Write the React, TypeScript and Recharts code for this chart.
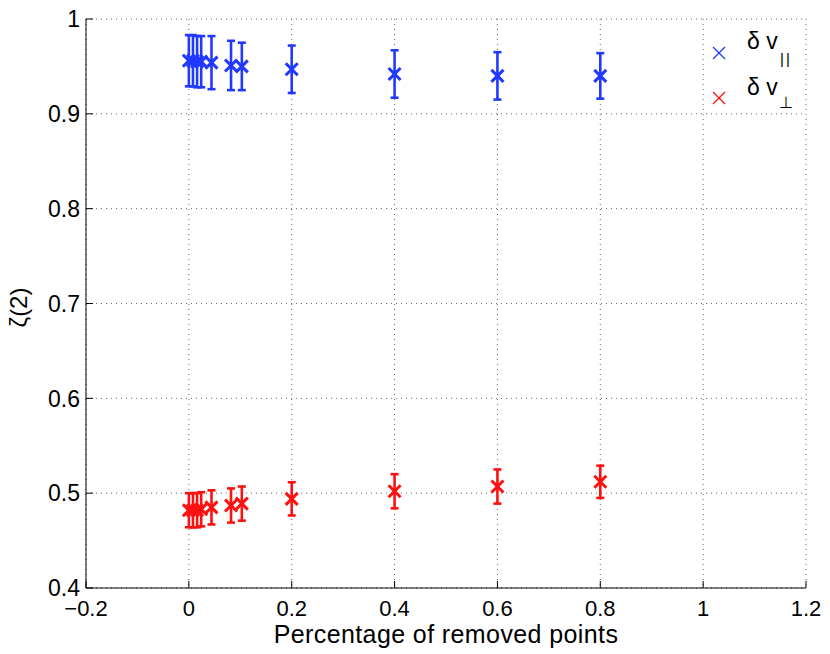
import {
  CartesianGrid,
  ErrorBar,
  Legend,
  Scatter,
  ScatterChart,
  XAxis,
  YAxis,
} from "recharts";

// fraction of removed points (x) and the fitted exponents with their error bars
const removed = [0, 0.008, 0.016, 0.024, 0.044, 0.082, 0.103, 0.2, 0.4, 0.6, 0.8];
const zetaPar = [0.956, 0.956, 0.955, 0.955, 0.954, 0.951, 0.95, 0.947, 0.942, 0.94, 0.94];
const zetaParErr = [0.027, 0.027, 0.027, 0.027, 0.028, 0.026, 0.025, 0.025, 0.025, 0.025, 0.024];
const zetaPerp = [0.482, 0.482, 0.482, 0.483, 0.485, 0.487, 0.489, 0.494, 0.502, 0.507, 0.512];
const zetaPerpErr = [0.018, 0.018, 0.018, 0.018, 0.018, 0.018, 0.018, 0.0175, 0.018, 0.018, 0.017];

const xTicks = [-0.2, 0, 0.2, 0.4, 0.6, 0.8, 1, 1.2];
const yTicks = [0.4, 0.5, 0.6, 0.7, 0.8, 0.9, 1];

const BLUE = "#2038ff";
const RED = "#ff1010";
const FONT = '"Liberation Sans", Arial, Helvetica, sans-serif';

const parData = removed.map((x, i) => ({ x, y: zetaPar[i], err: zetaParErr[i] }));
const perpData = removed.map((x, i) => ({ x, y: zetaPerp[i], err: zetaPerpErr[i] }));

const fmt = (v: number) => (v < 0 ? `\u2212${Math.abs(v)}` : `${v}`);

function Cross(props: any) {
  const { cx, cy, color } = props;
  if (cx == null || cy == null) return null;
  const s = 6;
  return (
    <g stroke={color} strokeWidth={3}>
      <line x1={cx - s} y1={cy - s} x2={cx + s} y2={cy + s} />
      <line x1={cx - s} y1={cy + s} x2={cx + s} y2={cy - s} />
    </g>
  );
}

function BottomTick({ x, y, payload }: any) {
  return (
    <g>
      <line x1={x} y1={y} x2={x} y2={y - 7} stroke="#000" />
      <text
        x={x}
        y={y + 12}
        dy="0.71em"
        textAnchor="middle"
        fontSize={22}
        fontFamily={FONT}
        fill="#000"
      >
        {fmt(payload.value)}
      </text>
    </g>
  );
}

function TopTick({ x, y }: any) {
  return <line x1={x} y1={y} x2={x} y2={y + 7} stroke="#000" />;
}

function LeftTick({ x, y, payload }: any) {
  return (
    <g>
      <line x1={x} y1={y} x2={x + 7} y2={y} stroke="#000" />
      <text
        x={x - 6}
        y={y}
        dy="0.36em"
        textAnchor="end"
        fontSize={23}
        fontFamily={FONT}
        fill="#000"
      >
        {fmt(payload.value)}
      </text>
    </g>
  );
}

function RightTick({ x, y }: any) {
  return <line x1={x} y1={y} x2={x - 7} y2={y} stroke="#000" />;
}

function YTitle({ viewBox }: any) {
  const cy = viewBox ? viewBox.y + viewBox.height / 2 : 304;
  return (
    <text
      x={19}
      y={cy + 4}
      dy="0.35em"
      transform={`rotate(-90 19 ${cy + 4})`}
      textAnchor="middle"
      fontSize={24}
      fontFamily={FONT}
      fill="#000"
    >
      ζ(2)
    </text>
  );
}

function LegendBox() {
  const mark = (cx: number, cy: number, color: string) => (
    <g stroke={color} strokeWidth={1.2}>
      <line x1={cx - 6} y1={cy - 6} x2={cx + 6} y2={cy + 6} />
      <line x1={cx - 6} y1={cy + 6} x2={cx + 6} y2={cy - 6} />
    </g>
  );
  return (
    <svg width={110} height={90} style={{ display: "block" }}>
      {mark(19, 25, BLUE)}
      {mark(19, 70, RED)}
      <text x={47} y={21} fontSize={23} fontFamily={FONT} fill="#000">
        δ v
        <tspan x={80} y={36} fontSize={15} letterSpacing={2}>||</tspan>
      </text>
      <text x={47} y={67} fontSize={23} fontFamily={FONT} fill="#000">
        δ v
        <tspan x={79} y={80} fontSize={16}>⊥</tspan>
      </text>
    </svg>
  );
}

export default function App() {
  return (
    <div style={{ position: "absolute", left: 0, top: 0, background: "#fff" }}>
      <ScatterChart
        width={830}
        height={654}
        margin={{ top: 19, right: 24, bottom: 0, left: 0 }}
      >
        <CartesianGrid stroke="#666" strokeDasharray="1 4" />
        <XAxis
          type="number"
          dataKey="x"
          domain={[-0.2, 1.2]}
          ticks={xTicks}
          interval={0}
          allowDataOverflow
          height={66}
          tickSize={0}
          tickMargin={0}
          tickLine={false}
          axisLine={{ stroke: "#000" }}
          tick={<BottomTick />}
          label={{
            value: "Percentage of removed points",
            position: "insideBottom",
            offset: 11,
            fontSize: 25,
            letterSpacing: 0.4,
            fontFamily: FONT,
            fill: "#000",
          }}
        />
        <XAxis
          xAxisId="top"
          orientation="top"
          type="number"
          domain={[-0.2, 1.2]}
          ticks={xTicks}
          interval={0}
          allowDataOverflow
          height={0}
          tickSize={0}
          tickMargin={0}
          tickLine={false}
          axisLine={{ stroke: "#000" }}
          tick={<TopTick />}
        />
        <YAxis
          type="number"
          dataKey="y"
          domain={[0.4, 1]}
          ticks={yTicks}
          interval={0}
          allowDataOverflow
          width={86}
          tickSize={0}
          tickMargin={0}
          tickLine={false}
          axisLine={{ stroke: "#000" }}
          tick={<LeftTick />}
          label={<YTitle />}
        />
        <YAxis
          yAxisId="right"
          orientation="right"
          type="number"
          domain={[0.4, 1]}
          ticks={yTicks}
          interval={0}
          allowDataOverflow
          width={0}
          tickSize={0}
          tickMargin={0}
          tickLine={false}
          axisLine={{ stroke: "#000" }}
          tick={<RightTick />}
        />
        <Legend
          layout="vertical"
          align="center"
          verticalAlign="middle"
          wrapperStyle={{ top: 28, left: 700, width: 110 }}
          content={() => <LegendBox />}
        />
        <Scatter
          name="par"
          data={parData}
          isAnimationActive={false}
          shape={(p: any) => <Cross {...p} color={BLUE} />}
        >
          <ErrorBar
            dataKey="err"
            direction="y"
            width={4}
            strokeWidth={2.6}
            stroke={BLUE}
            isAnimationActive={false}
          />
        </Scatter>
        <Scatter
          name="perp"
          data={perpData}
          isAnimationActive={false}
          shape={(p: any) => <Cross {...p} color={RED} />}
        >
          <ErrorBar
            dataKey="err"
            direction="y"
            width={4}
            strokeWidth={2.6}
            stroke={RED}
            isAnimationActive={false}
          />
        </Scatter>
      </ScatterChart>
    </div>
  );
}
